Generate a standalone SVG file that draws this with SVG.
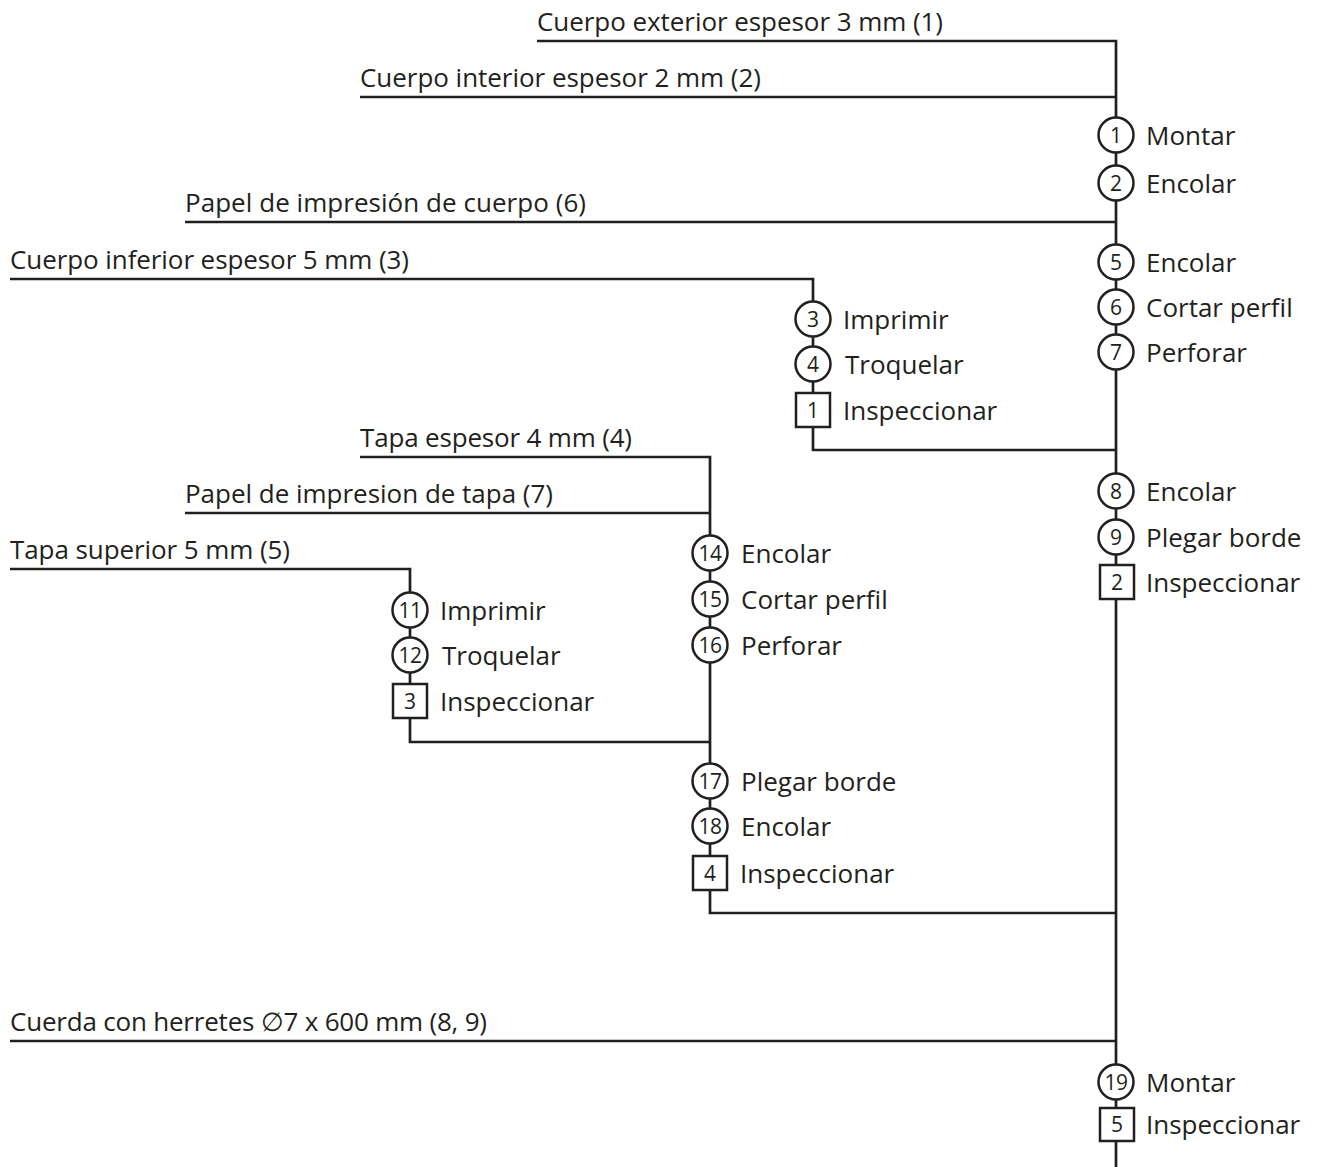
<svg xmlns="http://www.w3.org/2000/svg" width="1317" height="1167" viewBox="0 0 1317 1167">
<style>
.ln{fill:none;stroke:#231f20;stroke-width:2.7;stroke-linejoin:miter;stroke-linecap:butt}
.op{fill:#fff;stroke:#231f20;stroke-width:2.5}
.t{font-family:"Open Sans","Noto Sans",sans-serif;font-size:26px;fill:#231f20}
.n{font-family:"Open Sans","Noto Sans",sans-serif;font-size:21px;fill:#231f20;text-anchor:middle}
.n2{font-family:"Open Sans","Noto Sans",sans-serif;font-size:21px;fill:#231f20;text-anchor:middle;letter-spacing:-0.5px}
</style>
<rect width="1317" height="1167" fill="#fff"/>
<g id="connectors">
<path class="ln" d="M537 41 H1116 V1167"/>
<path class="ln" d="M360 97 H1116"/>
<path class="ln" d="M185 222 H1116"/>
<path class="ln" d="M10 279 H813 V450 H1116"/>
<path class="ln" d="M360 457 H710 V913 H1116"/>
<path class="ln" d="M185 513 H710"/>
<path class="ln" d="M10 569 H410 V742 H710"/>
<path class="ln" d="M10 1041 H1116"/>
</g>
<g id="materials">
<text id="m1" class="t" x="537" y="31" textLength="406">Cuerpo exterior espesor 3 mm (1)</text>
<text id="m2" class="t" x="360" y="87" textLength="401">Cuerpo interior espesor 2 mm (2)</text>
<text id="m6" class="t" x="185" y="212" textLength="401">Papel de impresión de cuerpo (6)</text>
<text id="m3" class="t" x="10" y="269" textLength="399">Cuerpo inferior espesor 5 mm (3)</text>
<text id="m4" class="t" x="360" y="447" textLength="272">Tapa espesor 4 mm (4)</text>
<text id="m7" class="t" x="185" y="503" textLength="368">Papel de impresion de tapa (7)</text>
<text id="m5" class="t" x="10" y="559" textLength="280">Tapa superior 5 mm (5)</text>
<text id="m8" class="t" x="10" y="1031" textLength="477">Cuerda con herretes ∅7 x 600 mm (8, 9)</text>
</g>
<g id="op1"><circle class="op" cx="1116" cy="135" r="17.5"/><text class="n" x="1116" y="142.5">1</text><text class="t" x="1146" y="144.5">Montar</text></g>
<g id="op2"><circle class="op" cx="1116" cy="183" r="17.5"/><text class="n" x="1116" y="190.5">2</text><text class="t" x="1146" y="192.5">Encolar</text></g>
<g id="op5"><circle class="op" cx="1116" cy="262" r="17.5"/><text class="n" x="1116" y="269.5">5</text><text class="t" x="1146" y="271.5">Encolar</text></g>
<g id="op6"><circle class="op" cx="1116" cy="307" r="17.5"/><text class="n" x="1116" y="314.5">6</text><text class="t" x="1146" y="316.5">Cortar perfil</text></g>
<g id="op7"><circle class="op" cx="1116" cy="352" r="17.5"/><text class="n" x="1116" y="359.5">7</text><text class="t" x="1146" y="361.5">Perforar</text></g>
<g id="op3"><circle class="op" cx="813" cy="319" r="17.5"/><text class="n" x="813" y="326.5">3</text><text class="t" x="843" y="328.5">Imprimir</text></g>
<g id="op4"><circle class="op" cx="813" cy="364" r="17.5"/><text class="n" x="813" y="371.5">4</text><text class="t" x="845" y="373.5">Troquelar</text></g>
<g id="insp1"><rect class="op" x="796" y="393" width="34" height="34"/><text class="n" x="813" y="417.5">1</text><text class="t" x="843" y="419.5">Inspeccionar</text></g>
<g id="op8"><circle class="op" cx="1116" cy="491" r="17.5"/><text class="n" x="1116" y="498.5">8</text><text class="t" x="1146" y="500.5">Encolar</text></g>
<g id="op9"><circle class="op" cx="1116" cy="537" r="17.5"/><text class="n" x="1116" y="544.5">9</text><text class="t" x="1146" y="546.5">Plegar borde</text></g>
<g id="insp2"><rect class="op" x="1100" y="565" width="34" height="34"/><text class="n" x="1117" y="589.5">2</text><text class="t" x="1146" y="591.5">Inspeccionar</text></g>
<g id="op14"><circle class="op" cx="710" cy="553" r="17.5"/><text class="n2" x="710" y="560.5">14</text><text class="t" x="741" y="562.5">Encolar</text></g>
<g id="op15"><circle class="op" cx="710" cy="599" r="17.5"/><text class="n2" x="710" y="606.5">15</text><text class="t" x="741" y="608.5">Cortar perfil</text></g>
<g id="op16"><circle class="op" cx="710" cy="645" r="17.5"/><text class="n2" x="710" y="652.5">16</text><text class="t" x="741" y="654.5">Perforar</text></g>
<g id="op11"><circle class="op" cx="410" cy="610" r="17.5"/><text class="n2" x="410" y="617.5">11</text><text class="t" x="440" y="619.5">Imprimir</text></g>
<g id="op12"><circle class="op" cx="410" cy="655" r="17.5"/><text class="n2" x="410" y="662.5">12</text><text class="t" x="442" y="664.5">Troquelar</text></g>
<g id="insp3"><rect class="op" x="393" y="684" width="34" height="34"/><text class="n" x="410" y="708.5">3</text><text class="t" x="440" y="710.5">Inspeccionar</text></g>
<g id="op17"><circle class="op" cx="710" cy="781" r="17.5"/><text class="n2" x="710" y="788.5">17</text><text class="t" x="741" y="790.5">Plegar borde</text></g>
<g id="op18"><circle class="op" cx="710" cy="826" r="17.5"/><text class="n2" x="710" y="833.5">18</text><text class="t" x="741" y="835.5">Encolar</text></g>
<g id="insp4"><rect class="op" x="693" y="856" width="34" height="34"/><text class="n" x="710" y="880.5">4</text><text class="t" x="740" y="882.5">Inspeccionar</text></g>
<g id="op19"><circle class="op" cx="1116" cy="1082" r="17.5"/><text class="n2" x="1116" y="1089.5">19</text><text class="t" x="1146" y="1091.5">Montar</text></g>
<g id="insp5"><rect class="op" x="1100" y="1108" width="34" height="33"/><text class="n" x="1117" y="1132">5</text><text class="t" x="1146" y="1134">Inspeccionar</text></g>
</svg>
